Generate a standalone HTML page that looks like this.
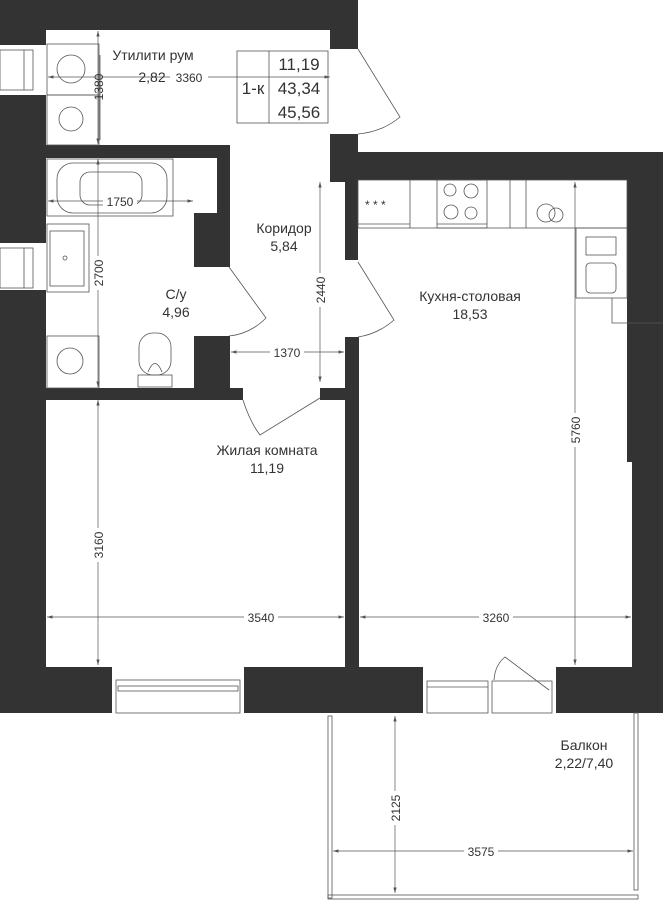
<!DOCTYPE html>
<html><head><meta charset="utf-8"><style>
html,body{margin:0;padding:0;background:#fff}
svg{display:block}
text{font-family:"Liberation Sans",sans-serif;fill:#333}
</style></head><body>
<svg width="663" height="900" viewBox="0 0 663 900" xmlns="http://www.w3.org/2000/svg">
<defs>
<marker id="a" viewBox="0 0 10 6" refX="10" refY="3" markerWidth="8" markerHeight="5" orient="auto-start-reverse"><path d="M0,0L10,3L0,6z" fill="#555"/></marker>
</defs>
<g fill="#333">
<!-- top walls -->
<rect x="0" y="0" width="358" height="30"/>
<rect x="0" y="0" width="46" height="45"/>
<rect x="330" y="0" width="28" height="49"/>
<rect x="330" y="134" width="28" height="48"/>
<rect x="330" y="152" width="333" height="28"/>
<!-- left wall -->
<rect x="0" y="95" width="46" height="148"/>
<rect x="0" y="290" width="46" height="423"/>
<!-- utility/bath partition -->
<rect x="0" y="145" width="230" height="13"/>
<rect x="217" y="145" width="13" height="70"/>
<rect x="194" y="213" width="36" height="54"/>
<rect x="194" y="336" width="36" height="54"/>
<rect x="0" y="388" width="243" height="12"/>
<rect x="320" y="388" width="39" height="12"/>
<!-- kitchen left wall -->
<rect x="345" y="160" width="13" height="100"/>
<rect x="345" y="337" width="14" height="376"/>
<!-- right wall -->
<rect x="627" y="152" width="36" height="310"/>
<rect x="632" y="460" width="31" height="253"/>
<!-- bottom wall -->
<rect x="0" y="667" width="112" height="46"/>
<rect x="244" y="667" width="179" height="46"/>
<rect x="556" y="667" width="107" height="46"/>
</g>
<g fill="none" stroke="#555" stroke-width="0.8">
<!-- left windows -->
<rect x="0" y="50" width="33" height="40"/><line x1="24" y1="50" x2="24" y2="90"/>
<rect x="0" y="248" width="33" height="40"/><line x1="24" y1="248" x2="24" y2="288"/>
<!-- bottom windows -->
<rect x="116" y="680" width="124" height="33"/><rect x="118" y="686" width="120" height="5"/>
<rect x="427" y="681" width="61" height="32"/><line x1="427" y1="687" x2="488" y2="687"/>
<rect x="492" y="681" width="60" height="32"/>
<path d="M494,680 Q495,665 505,657 L549,690"/>
<!-- balcony -->
<rect x="328" y="716" width="4" height="182"/>
<rect x="328" y="895" width="310" height="4"/>
<rect x="634" y="713" width="4" height="177"/>
<!-- utility fixtures -->
<rect x="47" y="44" width="52" height="51"/><circle cx="71" cy="69" r="14"/>
<rect x="47" y="95" width="52" height="50"/><circle cx="71" cy="119" r="12"/>
<line x1="100" y1="55" x2="100" y2="140"/>
<!-- bath -->
<rect x="47" y="159" width="126" height="57"/>
<rect x="57" y="163" width="110" height="50" rx="16"/>
<rect x="80" y="172" width="62" height="33" rx="10"/>
<rect x="47" y="224" width="42" height="68"/><rect x="50" y="231" width="34" height="55"/>
<circle cx="65" cy="258" r="2"/>
<!-- washer -->
<rect x="47" y="336" width="52" height="52"/><circle cx="70" cy="361" r="13"/>
<!-- toilet -->
<rect x="138" y="375" width="34" height="12"/>
<rect x="139" y="333" width="32" height="42" rx="14"/>
<path d="M148,372 Q155,355 162,372"/>
<!-- doors -->
<path d="M358,49 L400,117 Q382,132 358,134"/>
<path d="M229,267 L266,318 Q250,334 229,336"/>
<path d="M358,262 L394,320 Q378,334 358,337"/>
<path d="M243,400 Q250,422 260,435 L320,398"/>
<!-- kitchen -->
<rect x="358" y="180" width="269" height="48"/>
<line x1="358" y1="224" x2="410" y2="224"/>
<line x1="410" y1="180" x2="410" y2="228"/>
<rect x="437" y="180" width="50" height="48"/>
<line x1="437" y1="224" x2="487" y2="224"/>
<circle cx="450" cy="190" r="6"/><circle cx="471" cy="191" r="7"/>
<circle cx="451" cy="212" r="7"/><circle cx="471" cy="213" r="6"/>
<line x1="510" y1="180" x2="510" y2="228"/><line x1="526" y1="180" x2="526" y2="228"/>
<circle cx="546" cy="213" r="9"/><circle cx="556" cy="215" r="7"/>
<rect x="576" y="228" width="51" height="70"/>
<rect x="586" y="237" width="30" height="18"/>
<rect x="586" y="263" width="30" height="30" rx="4"/>
<path d="M612,298 L612,323 L663,323"/>
<!-- table -->
<rect x="237" y="51" width="91" height="72"/>
<line x1="269" y1="51" x2="269" y2="123"/>
</g>
<text x="365" y="209" font-size="12" fill="#555">* * *</text>
<g stroke="#555" stroke-width="0.7" fill="none" marker-start="url(#a)" marker-end="url(#a)">
<line x1="48" y1="77" x2="330" y2="77"/>
<line x1="98" y1="31" x2="98" y2="144"/>
<line x1="48" y1="201" x2="193" y2="201"/>
<line x1="98" y1="159" x2="98" y2="387"/>
<line x1="320" y1="182" x2="320" y2="382"/>
<line x1="231" y1="352" x2="344" y2="352"/>
<line x1="575" y1="182" x2="575" y2="665"/>
<line x1="98" y1="400" x2="98" y2="665"/>
<line x1="47" y1="617" x2="344" y2="617"/>
<line x1="360" y1="617" x2="631" y2="617"/>
<line x1="395" y1="716" x2="395" y2="893"/>
<line x1="333" y1="851" x2="633" y2="851"/>
</g>
<g font-size="12" text-anchor="middle">
<rect x="170" y="70" width="38" height="14" fill="#fff"/><text x="189" y="82">3360</text>
<rect x="103" y="194" width="34" height="14" fill="#fff"/><text x="120" y="206">1750</text>
<rect x="270" y="345" width="34" height="14" fill="#fff"/><text x="287" y="357">1370</text>
<rect x="244" y="610" width="34" height="14" fill="#fff"/><text x="261" y="622">3540</text>
<rect x="479" y="610" width="34" height="14" fill="#fff"/><text x="496" y="622">3260</text>
<rect x="464" y="844" width="34" height="14" fill="#fff"/><text x="481" y="856">3575</text>
<g transform="translate(103,87) rotate(-90)"><text x="0" y="0">1380</text></g>
<g transform="translate(103,273) rotate(-90)"><rect x="-17" y="-11" width="34" height="14" fill="#fff"/><text x="0" y="0">2700</text></g>
<g transform="translate(103,545) rotate(-90)"><rect x="-17" y="-11" width="34" height="14" fill="#fff"/><text x="0" y="0">3160</text></g>
<g transform="translate(325,290) rotate(-90)"><rect x="-17" y="-11" width="34" height="14" fill="#fff"/><text x="0" y="0">2440</text></g>
<g transform="translate(580,430) rotate(-90)"><rect x="-17" y="-11" width="34" height="14" fill="#fff"/><text x="0" y="0">5760</text></g>
<g transform="translate(400,808) rotate(-90)"><rect x="-17" y="-11" width="34" height="14" fill="#fff"/><text x="0" y="0">2125</text></g>
</g>
<g font-size="14" text-anchor="middle">
<text x="153" y="60">Утилити рум</text>
<text x="152" y="82">2,82</text>
<text x="284" y="233">Коридор</text>
<text x="284" y="251">5,84</text>
<text x="176" y="299">С/у</text>
<text x="176" y="317">4,96</text>
<text x="470" y="301">Кухня-столовая</text>
<text x="470" y="319">18,53</text>
<text x="267" y="455">Жилая комната</text>
<text x="267" y="473">11,19</text>
<text x="584" y="750">Балкон</text>
<text x="584" y="768">2,22/7,40</text>
</g>
<g font-size="17" text-anchor="middle">
<text x="299" y="70">11,19</text>
<text x="299" y="94">43,34</text>
<text x="299" y="118">45,56</text>
<text x="253" y="94">1-к</text>
</g>
</svg>
</body></html>
